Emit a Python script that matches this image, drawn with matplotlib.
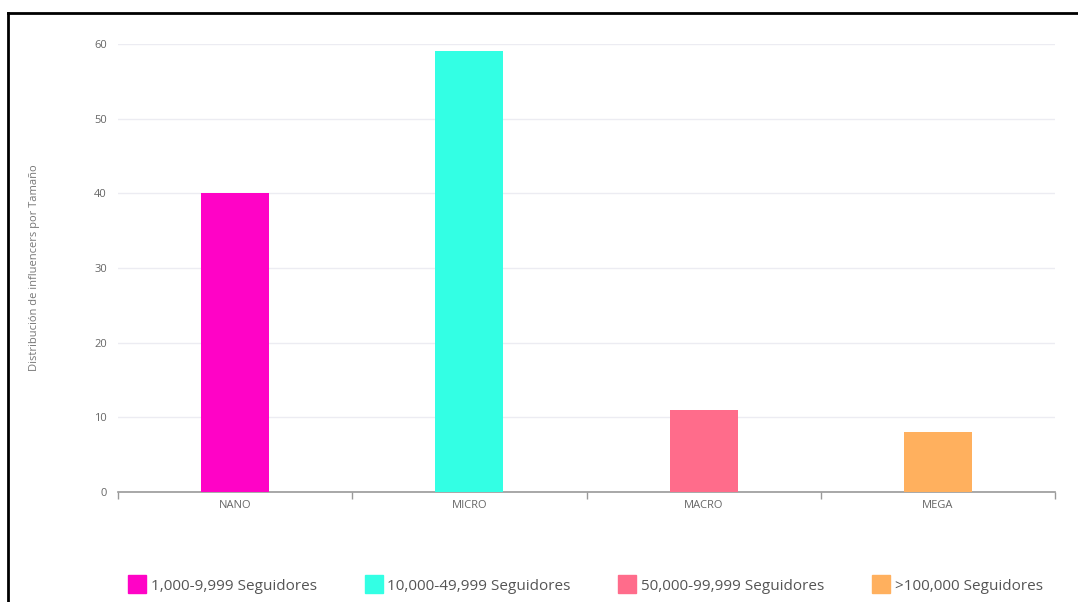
import matplotlib.pyplot as plt
from matplotlib.lines import Line2D

categories = ["NANO", "MICRO", "MACRO", "MEGA"]
values = [40, 59, 11, 8]
legend_labels = [
    "1,000-9,999 Seguidores",
    "10,000-49,999 Seguidores",
    "50,000-99,999 Seguidores",
    ">100,000 Seguidores",
]
colors = ["#FF03C6", "#33FFE4", "#FF6C8B", "#FFB05E"]
y_ticks = [0, 10, 20, 30, 40, 50, 60]

plt.rcParams["font.family"] = ["Open Sans", "DejaVu Sans"]

fig = plt.figure(figsize=(10.78, 6.02), dpi=100)
ax = fig.add_axes([118 / 1078, 1 - 492 / 602, 937 / 1078, 448 / 602])

x = range(len(categories))
ax.bar(x, values, width=0.29, color=colors, zorder=3)

ax.set_xlim(-0.5, len(categories) - 0.5)
ax.set_ylim(0, 60)
ax.set_yticks(y_ticks)
ax.set_yticklabels([str(v) for v in y_ticks], fontsize=8, color="#666666")
ax.grid(axis="y", color="#ECECF2", linewidth=1, zorder=0)

# category boundaries get the tick marks, names sit in the middle
ax.set_xticks([i - 0.5 for i in range(len(categories) + 1)], minor=False)
ax.set_xticklabels([])
ax.set_xticks(list(x), minor=True)
ax.set_xticklabels(categories, minor=True, fontsize=8, color="#666666")
ax.tick_params(axis="x", which="major", length=5, color="#999999", width=1)
ax.tick_params(axis="x", which="minor", length=0, pad=6)
ax.tick_params(axis="y", length=0, pad=8)

for side in ["top", "right", "left"]:
    ax.spines[side].set_visible(False)
ax.spines["bottom"].set_color("#999999")
ax.spines["bottom"].set_linewidth(1.2)

fig.text(35 / 1078, 1 - 268 / 602, "Distribución de influencers por Tamaño",
         rotation=90, ha="center", va="center", fontsize=8, color="#777777")

handles = [Line2D([0], [0], marker="s", linestyle="none", markersize=13,
                  markerfacecolor=c, markeredgecolor=c) for c in colors]
fig.legend(handles, legend_labels, loc="center", ncol=4, frameon=False,
           bbox_to_anchor=(0.543, 1 - 586 / 602), fontsize=11,
           labelcolor="#555555", handletextpad=0.3, columnspacing=3.1,
           handlelength=1.2)

# outer frame
fig.add_artist(Line2D([8 / 1078, 1], [1 - 13 / 602, 1 - 13 / 602],
                      color="black", linewidth=2, transform=fig.transFigure))
fig.add_artist(Line2D([8 / 1078, 8 / 1078], [0, 1 - 13 / 602],
                      color="black", linewidth=2, transform=fig.transFigure))

fig.savefig("out.png", dpi=100)
